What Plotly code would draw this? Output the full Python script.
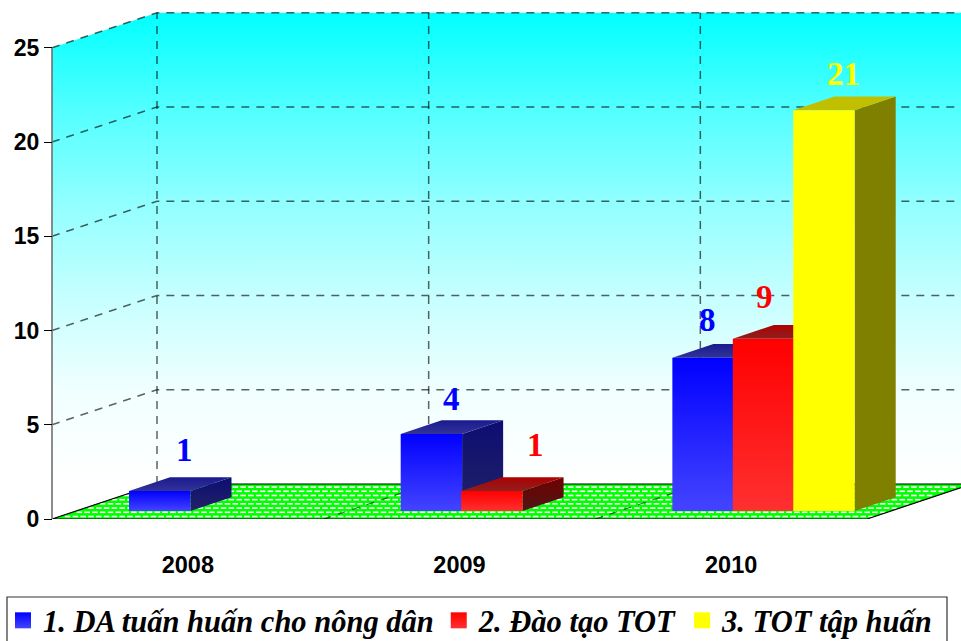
import plotly.graph_objects as go

# Chart data
years = ["2008", "2009", "2010"]
series_names = ["1. DA tuấn huấn cho nông dân", "2. Đào tạo TOT", "3. TOT tập huấn"]
series_da = [1, 4, 8]
series_dt = [0, 1, 9]
series_tot = [0, 0, 21]
value_ticks = [0, 5, 10, 15, 20, 25]

# Oblique projection: category and value units per unit of depth
PX_PER_CAT = 271.67
PX_PER_VAL = 18.85
LEFT_PX = 52
FLOOR_PX = 519
DEPTH_X = 105 / PX_PER_CAT
DEPTH_Y = 35 / PX_PER_VAL
X_MIN = -LEFT_PX / PX_PER_CAT
X_MAX = (961 - LEFT_PX) / PX_PER_CAT
Y_MAX = FLOOR_PX / PX_PER_VAL

# Bar layout inside each category
BAR_START = 0.195
BAR_STEP = 0.2225
BAR_WIDTH = 0.226
BAR_DEPTH_FRONT = 0.229
BAR_DEPTH_BACK = 0.62
BAR_GAIN = 1.01
BAR_LIFT = 0.05

palettes = [
    {"front": ["#4444ff", "#0000ff"], "top": ["#333399", "#1a1a8f"], "side": ["#222268", "#0d0d72"], "label": "#0000ff"},
    {"front": ["#ff3030", "#ff0000"], "top": ["#8c2020", "#b00000"], "side": ["#501515", "#700000"], "label": "#ff0000"},
    {"front": ["#ffff00", "#ffff00"], "top": ["#c0c000", "#c0c000"], "side": ["#808000", "#808000"], "label": "#ffff00"},
]

# Hand-placed label offsets (px), per series and year
label_shift = {
    (0, 0): (-16, 27), (0, 1): (-21, 21), (0, 2): (-37, 24),
    (1, 1): (3, 32), (1, 2): (-40, 28),
    (2, 2): (-22, 23),
}

# Floor texture spacing, in px of the drawn plane
DOT_STEP_PX = 7.8
DOT_ROW_PX = 4.2


def project(x, v, d):
    return x + d * DEPTH_X, v + d * DEPTH_Y


def polygon(corners, **kwargs):
    pts = [project(*c) for c in corners]
    xs = [p[0] for p in pts] + [pts[0][0]]
    ys = [p[1] for p in pts] + [pts[0][1]]
    return go.Scatter(x=xs, y=ys, mode="lines", fill="toself", line=dict(width=0),
                      hoverinfo="skip", showlegend=False, **kwargs)


def ramp(colors):
    return [[0, colors[0]], [1, colors[1]]]


def polyline(corners, color, width, dash="solid", clip=True):
    pts = [project(*c) for c in corners]
    return go.Scatter(x=[p[0] for p in pts], y=[p[1] for p in pts], mode="lines",
                      line=dict(color=color, width=width, dash=dash), hoverinfo="skip",
                      showlegend=False, cliponaxis=clip)


fig = go.Figure()

n_cat = len(years)
top_val = value_ticks[-1]

# Back and side walls share one vertical ramp
wall_grad = dict(
    type="vertical",
    colorscale=[[0, "#ffffff"], [0.2, "#f0ffff"], [0.4, "#c5ffff"], [0.6, "#90ffff"], [0.8, "#50ffff"], [1, "#00ffff"]],
    start=DEPTH_Y, stop=top_val + DEPTH_Y,
)
fig.add_trace(polygon([(0, 0, 1), (n_cat, 0, 1), (n_cat, top_val, 1), (0, top_val, 1)], fillgradient=wall_grad))
fig.add_trace(polygon([(0, 0, 0), (0, 0, 1), (0, top_val, 1), (0, top_val, 0)], fillgradient=wall_grad))

# Floor: green plane with a staggered lattice of white dashes
fig.add_trace(polygon([(0, 0, 0), (n_cat, 0, 0), (n_cat, 0, 1), (0, 0, 1)], fillcolor="#00ff00"))
dot_x, dot_y = [], []
step = DOT_STEP_PX / PX_PER_CAT
for row in range(int(35 / DOT_ROW_PX)):
    depth = (row + 0.6) * DOT_ROW_PX / 35
    pos = (row % 2) * step / 2
    while pos < n_cat + DEPTH_X:
        if depth * DEPTH_X + 0.008 <= pos <= n_cat + depth * DEPTH_X - 0.008:
            dot_x.append(pos)
            dot_y.append(depth * DEPTH_Y)
        pos += step
fig.add_trace(go.Scatter(x=dot_x, y=dot_y, mode="markers", hoverinfo="skip", showlegend=False,
                         marker=dict(symbol="line-ew", size=4, line=dict(color="#ffffff", width=1.6))))

# Grid
GRID = "rgba(0,0,0,0.62)"
DASH = "8px,7px"
for v in value_ticks[1:]:
    fig.add_trace(polyline([(0, v, 0), (0, v, 1), (n_cat, v, 1)], GRID, 1.5, DASH))
for c in range(0, n_cat):
    fig.add_trace(polyline([(c, 0, 1), (c, top_val, 1)], GRID, 1.5, DASH))
    if c > 0:
        fig.add_trace(polyline([(c, 0, 0), (c, 0, 1)], GRID, 1.2, DASH))

# Floor outline and value axis line
fig.add_trace(polyline([(0, 0, 1), (0, 0, 0), (n_cat, 0, 0), (n_cat, 0, 1), (0, 0, 1)], "#000000", 1.2, clip=False))
fig.add_trace(polyline([(0, 0, 0), (0, top_val, 0)], "#707070", 1.6, clip=False))

# Bars: painted left to right so nearer faces cover the sides of earlier ones
annotations = []
all_series = [series_da, series_dt, series_tot]
for c in range(n_cat):
    for s, values in enumerate(all_series):
        value = values[c]
        if value <= 0:
            continue
        pal = palettes[s]
        x0 = c + BAR_START + s * BAR_STEP
        x1 = x0 + BAR_WIDTH
        h = value * BAR_GAIN + BAR_LIFT
        d0, d1 = BAR_DEPTH_FRONT, BAR_DEPTH_BACK
        fig.add_trace(polygon([(x1, 0, d0), (x1, 0, d1), (x1, h, d1), (x1, h, d0)],
                              fillgradient=dict(type="vertical", colorscale=ramp(pal["side"]))))
        fig.add_trace(polygon([(x0, h, d0), (x1, h, d0), (x1, h, d1), (x0, h, d1)],
                              fillgradient=dict(type="vertical", colorscale=ramp(pal["top"]))))
        fig.add_trace(polygon([(x0, 0, d0), (x1, 0, d0), (x1, h, d0), (x0, h, d0)],
                              fillgradient=dict(type="vertical", colorscale=ramp(pal["front"]))))
        lx, ly = project((x0 + x1) / 2, h, d1)
        sx, sy = label_shift[(s, c)]
        annotations.append(dict(x=lx, y=ly, text=str(value), showarrow=False, xshift=sx, yshift=sy,
                                font=dict(family="Liberation Serif", size=33, color=pal["label"], weight="bold")))

# Legend entries
for name, pal in zip(series_names, palettes):
    fig.add_trace(go.Scatter(x=[None], y=[None], mode="markers", name=name,
                             marker=dict(symbol="square", size=20, color=pal["front"][1],
                                         gradient=dict(type="vertical", color=pal["front"][0]))))

# Legend frame runs off the bottom of the page
FRAME_LEFT, FRAME_RIGHT, FRAME_TOP, FRAME_BOTTOM = 7, 947, 597, 650
frame = dict(type="rect", xref="paper", yref="paper", layer="below",
             x0=FRAME_LEFT / 961, x1=FRAME_RIGHT / 961,
             y0=(FLOOR_PX - FRAME_BOTTOM) / FLOOR_PX, y1=(FLOOR_PX - FRAME_TOP) / FLOOR_PX,
             line=dict(color="#333333", width=1.2))

fig.update_layout(
    width=961, height=641, autosize=False,
    margin=dict(l=0, r=0, t=0, b=122),
    paper_bgcolor="#ffffff", plot_bgcolor="rgba(0,0,0,0)",
    xaxis=dict(range=[X_MIN, X_MAX], tickvals=[i + 0.5 for i in range(n_cat)], ticktext=years,
               showgrid=False, zeroline=False, ticks="", ticklabelstandoff=29,
               tickfont=dict(family="Liberation Sans", size=23.5, color="#000000", weight="bold")),
    yaxis=dict(range=[0, Y_MAX], tickvals=value_ticks, showgrid=False, zeroline=False,
               anchor="free", position=LEFT_PX / 961,
               ticks="outside", ticklen=8, tickcolor="#000000", tickwidth=1, ticklabelstandoff=0,
               tickfont=dict(family="Liberation Sans", size=23, color="#000000", weight="bold")),
    legend=dict(orientation="h", xref="container", yref="container", x=3 / 961, y=1 - 594 / 641,
                xanchor="left", yanchor="top", bgcolor="rgba(0,0,0,0)", borderwidth=0,
                font=dict(family="Liberation Serif", size=30.5, color="#000000", weight="bold", style="italic")),
    shapes=[frame],
    annotations=annotations,
    showlegend=True,
)

fig.write_html("out.html")
